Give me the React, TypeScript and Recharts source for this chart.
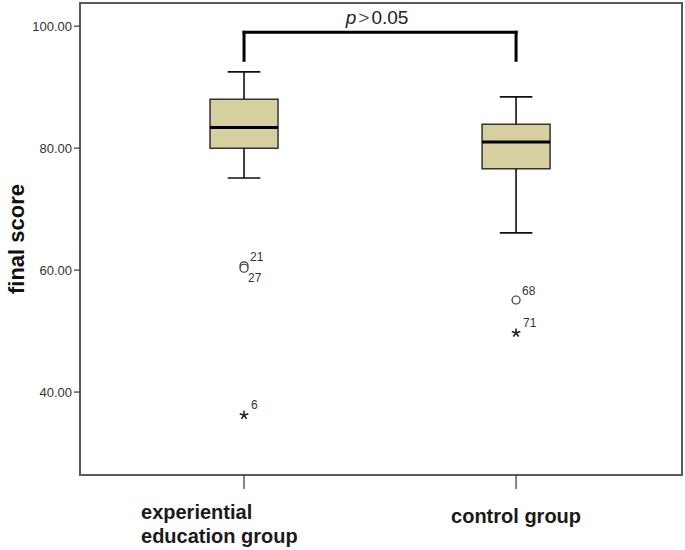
import {
    ComposedChart,
    ReferenceArea,
    ReferenceLine,
    Scatter,
    XAxis,
    YAxis,
} from 'recharts';

const groupPositions = [1, 2];
const groupLabelLines = [['experiential', 'education group'], ['control group']];

const whiskerLow = [75.1, 66.1];
const quartile1 = [80.0, 76.6];
const medians = [83.4, 81.0];
const quartile3 = [88.0, 83.9];
const whiskerHigh = [92.5, 88.4];

// mild outliers (circles)
const outlierIds = ['21', '27', '68'];
const outlierGroup = [1, 1, 2];
const outlierValues = [60.7, 60.3, 55.1];

// extreme outliers (stars)
const extremeIds = ['6', '71'];
const extremeGroup = [1, 2];
const extremeValues = [36.2, 49.7];

const yTicks = [40, 60, 80, 100];
const pLabel = ['p', '>', '0.05'];
const bracketTop = 99.0;
const bracketBottom = 94.4;

const X_DOMAIN: [number, number] = [0.397, 2.61];
const Y_DOMAIN: [number, number] = [26.4, 103.8];
const BOX_HALF = 0.125;
const CAP_HALF = 0.06;
const FONT = '"Liberation Sans", Arial, sans-serif';

const outlierData = outlierIds.map((id, i) => ({ x: outlierGroup[i], y: outlierValues[i], id }));
const extremeData = extremeIds.map((id, i) => ({ x: extremeGroup[i], y: extremeValues[i], id }));

// label placement for the overlapping pair
const labelBelow = new Set(['27']);

const GroupTick = (props: any) => {
    const { x, y, payload } = props;
    const idx = groupPositions.indexOf(payload.value);
    const lines = groupLabelLines[idx] ?? [];
    if (lines.length > 1) {
        return (
            <g>
                {lines.map((line, i) => (
                    <text
                        key={i}
                        x={x - 103}
                        y={y + 28 + i * 24}
                        textAnchor="start"
                        fontSize={20}
                        fontWeight="bold"
                        fontFamily={FONT}
                        fill="#1a1a1a"
                    >
                        {line}
                    </text>
                ))}
            </g>
        );
    }
    return (
        <text x={x} y={y + 32} textAnchor="middle" fontSize={20} fontWeight="bold" fontFamily={FONT} fill="#1a1a1a">
            {lines[0]}
        </text>
    );
};

const CircleOutlier = (props: any) => {
    const { cx, cy, payload } = props;
    const below = labelBelow.has(payload.id);
    return (
        <g>
            <circle cx={cx} cy={cy} r={4} fill="#fff" stroke="#333" strokeWidth={1.2} />
            <text
                x={cx + (below ? 4 : 6)}
                y={below ? cy + 14 : cy - 5}
                fontSize={12}
                fontFamily={FONT}
                fill="#333"
            >
                {payload.id}
            </text>
        </g>
    );
};

const StarOutlier = (props: any) => {
    const { cx, cy, payload } = props;
    const arms = [0, 72, 144, 216, 288];
    return (
        <g>
            {arms.map((a) => {
                const r = (a - 90) * (Math.PI / 180);
                return (
                    <line
                        key={a}
                        x1={cx}
                        y1={cy}
                        x2={cx + Math.cos(r) * 4.5}
                        y2={cy + Math.sin(r) * 4.5}
                        stroke="#222"
                        strokeWidth={1.6}
                    />
                );
            })}
            <text x={cx + 7} y={cy - 6} fontSize={12} fontFamily={FONT} fill="#333">
                {payload.id}
            </text>
        </g>
    );
};

const PLabel = (props: any) => {
    const vb = props.viewBox ?? {};
    const cx = (vb.x ?? 0) + (vb.width ?? 0) / 2 - 3;
    return (
        <text x={cx} y={(vb.y ?? 0) - 8} textAnchor="middle" fontSize={19} fontFamily={FONT} fill="#222">
            <tspan fontStyle="italic">{pLabel[0]}</tspan>
            <tspan dx={2} fill="#555">{pLabel[1]}</tspan>
            <tspan dx={2}>{pLabel[2]}</tspan>
        </text>
    );
};

const YLabel = (props: any) => {
    const vb = props.viewBox ?? {};
    const x = 16;
    const y = (vb.y ?? 0) + (vb.height ?? 0) / 2;
    return (
        <text
            x={x}
            y={y}
            transform={`rotate(-90, ${x}, ${y})`}
            textAnchor="middle"
            dominantBaseline="central"
            fontSize={22}
            fontWeight="bold"
            fontFamily={FONT}
            fill="#111"
        >
            final score
        </text>
    );
};

export default function App() {
    return (
        <div style={{ position: 'absolute', left: 0, top: 0, width: 685, height: 550, background: '#fff' }}>
            <ComposedChart width={685} height={550} margin={{ top: 3, right: 3, bottom: 0, left: 10 }}>
                <XAxis
                    type="number"
                    dataKey="x"
                    domain={X_DOMAIN}
                    ticks={groupPositions}
                    allowDataOverflow
                    axisLine={false}
                    tickLine={{ stroke: '#444', strokeWidth: 1.3 }}
                    tickSize={14}
                    height={75}
                    interval={0}
                    tick={<GroupTick />}
                />
                <YAxis
                    type="number"
                    dataKey="y"
                    domain={Y_DOMAIN}
                    ticks={yTicks}
                    allowDataOverflow
                    width={70}
                    axisLine={false}
                    tickLine={{ stroke: '#444', strokeWidth: 1.3 }}
                    tickSize={6}
                    tickFormatter={(v: number) => v.toFixed(2)}
                    tick={{ fill: '#333', fontSize: 13, fontFamily: FONT }}
                    label={<YLabel />}
                />

                {/* plot frame */}
                <ReferenceArea
                    x1={X_DOMAIN[0]}
                    x2={X_DOMAIN[1]}
                    y1={Y_DOMAIN[0]}
                    y2={Y_DOMAIN[1]}
                    fill="none"
                    stroke="#5a5a5a"
                    strokeWidth={2}
                    fillOpacity={0}
                    ifOverflow="visible"
                />

                {groupPositions.map((g, i) => (
                    <ReferenceArea
                        key={`box-${i}`}
                        x1={g - BOX_HALF}
                        x2={g + BOX_HALF}
                        y1={quartile1[i]}
                        y2={quartile3[i]}
                        fill="#d6d0a0"
                        fillOpacity={1}
                        stroke="#333"
                        strokeWidth={1.5}
                    />
                ))}
                {groupPositions.map((g, i) => (
                    <ReferenceLine
                        key={`up-${i}`}
                        segment={[{ x: g, y: quartile3[i] }, { x: g, y: whiskerHigh[i] }]}
                        stroke="#111"
                        strokeWidth={1.6}
                    />
                ))}
                {groupPositions.map((g, i) => (
                    <ReferenceLine
                        key={`lo-${i}`}
                        segment={[{ x: g, y: whiskerLow[i] }, { x: g, y: quartile1[i] }]}
                        stroke="#111"
                        strokeWidth={1.6}
                    />
                ))}
                {groupPositions.map((g, i) => (
                    <ReferenceLine
                        key={`capHi-${i}`}
                        segment={[{ x: g - CAP_HALF, y: whiskerHigh[i] }, { x: g + CAP_HALF, y: whiskerHigh[i] }]}
                        stroke="#111"
                        strokeWidth={1.6}
                    />
                ))}
                {groupPositions.map((g, i) => (
                    <ReferenceLine
                        key={`capLo-${i}`}
                        segment={[{ x: g - CAP_HALF, y: whiskerLow[i] }, { x: g + CAP_HALF, y: whiskerLow[i] }]}
                        stroke="#111"
                        strokeWidth={1.6}
                    />
                ))}
                {groupPositions.map((g, i) => (
                    <ReferenceLine
                        key={`med-${i}`}
                        segment={[{ x: g - BOX_HALF, y: medians[i] }, { x: g + BOX_HALF, y: medians[i] }]}
                        stroke="#000"
                        strokeWidth={3}
                    />
                ))}

                {/* significance bracket */}
                <ReferenceLine
                    segment={[{ x: groupPositions[0], y: bracketTop }, { x: groupPositions[1], y: bracketTop }]}
                    stroke="#000"
                    strokeWidth={3}
                    strokeLinecap="square"
                    label={<PLabel />}
                />
                <ReferenceLine
                    segment={[{ x: groupPositions[0], y: bracketTop }, { x: groupPositions[0], y: bracketBottom }]}
                    stroke="#000"
                    strokeWidth={3}
                    strokeLinecap="square"
                />
                <ReferenceLine
                    segment={[{ x: groupPositions[1], y: bracketTop }, { x: groupPositions[1], y: bracketBottom }]}
                    stroke="#000"
                    strokeWidth={3}
                    strokeLinecap="square"
                />

                <Scatter data={outlierData} shape={<CircleOutlier />} isAnimationActive={false} />
                <Scatter data={extremeData} shape={<StarOutlier />} isAnimationActive={false} />
            </ComposedChart>
        </div>
    );
}
